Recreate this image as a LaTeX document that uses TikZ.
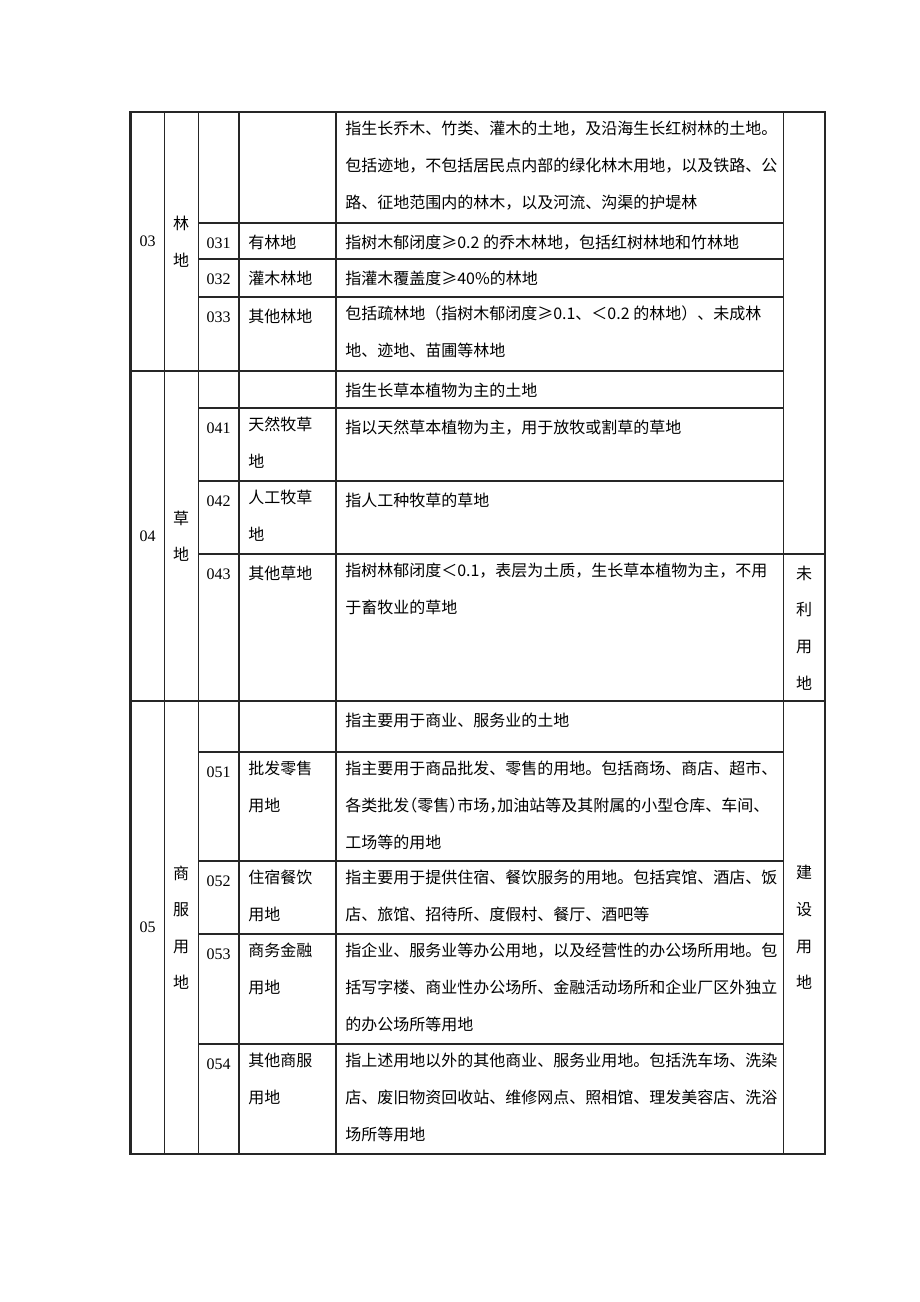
\documentclass[tikz,border=0pt]{standalone}
\usepackage{fontspec}
\setmainfont{Liberation Serif}
\newfontfamily\cjk{Noto Sans CJK SC}
\newfontfamily\cjkhalf[RawFeature=+halt]{Noto Sans CJK SC}
\newcommand{\hw}[1]{{\cjkhalf #1}}
\usepackage{tikz}

\begin{document}
\begin{tikzpicture}[x=0.75pt, y=-0.75pt, font=\fontsize{12}{14}\selectfont,
		rule/.style={line width=1pt, black!85},
		frame/.style={line width=1.75pt, black!85},
		desc/.style={anchor=north west, inner sep=0pt, align=left,
			font=\cjk\fontsize{12}{27.75}\selectfont, execute at begin node={\rule{0pt}{12pt}}},
		code/.style={anchor=base, inner sep=0pt},
		vtext/.style={inner sep=0pt, align=center, font=\cjk\fontsize{12}{27.4}\selectfont}]
		\useasboundingbox (0,0) rectangle (920,1302);
		% Draw table frame and rules
		\draw[frame] (130.5,112) rectangle (825,1154);
		\foreach \x in {164.3,198.3,239,336,783.3}
			\draw[rule] (\x,112) -- (\x,1154);
		\foreach \y in {223,259,297,408,481,752,861,934,1044}
			\draw[rule] (198.3,\y) -- (783.3,\y);
		\draw[rule] (130.5,371) -- (783.3,371);
		\draw[rule] (198.3,554) -- (825,554);
		\draw[rule] (130.5,701) -- (825,701);
		% Class codes and names
		\node[inner sep=0pt] (k03) at (147.5,241.5) {03};
		\node[inner sep=0pt] (k04) at (147.5,536) {04};
		\node[inner sep=0pt] (k05) at (147.5,927.5) {05};
		\node[vtext] (g03) at (181,241.5) {林\\地};
		\node[vtext] (g04) at (181,536) {草\\地};
		\node[vtext] (g05) at (181,927.5) {商\\服\\用\\地};
		% Sub-class codes and names
		\foreach \c/\y/\t in {031/223/有林地, 032/259/灌木林地, 033/297/其他林地,
			041/408/{天然牧草\\地}, 042/481/{人工牧草\\地}, 043/554/其他草地,
			051/752/{批发零售\\用地}, 052/861/{住宿餐饮\\用地}, 053/934/{商务金融\\用地},
			054/1044/{其他商服\\用地}} {
			\node[code] (c\c) at (218.5,\y+25) {\c};
			\node[desc] (n\c) at (248,\y+9) {\t};
		}
		% Descriptions
		\node[desc] (d03) at (345,121) {指生长乔木、竹类、灌木的土地，及沿海生长红树林的土地。\\包括迹地，不包括居民点内部的绿化林木用地，以及铁路、公\\路、征地范围内的林木，以及河流、沟渠的护堤林};
		\node[desc] (d031) at (345,232) {指树木郁闭度≥0.2 的乔木林地，包括红树林地和竹林地};
		\node[desc] (d032) at (345,268) {指灌木覆盖度≥40\%的林地};
		\node[desc] (d033) at (345,306) {包括疏林地（指树木郁闭度≥0.1、＜0.2 的林地）、未成林\\地、迹地、苗圃等林地};
		\node[desc] (d04) at (345,380) {指生长草本植物为主的土地};
		\node[desc] (d041) at (345,417) {指以天然草本植物为主，用于放牧或割草的草地};
		\node[desc] (d042) at (345,490) {指人工种牧草的草地};
		\node[desc] (d043) at (345,563) {指树林郁闭度＜0.1，表层为土质，生长草本植物为主，不用\\于畜牧业的草地};
		\node[desc] (d05) at (345,710) {指主要用于商业、服务业的土地};
		\node[desc] (d051) at (345,761) {指主要用于商品批发、零售的用地。包括商场、商店、超市、\\各类批发\hw{（}零售\hw{）}市场\hw{，}加油站等及其附属的小型仓库、车间、\\工场等的用地};
		\node[desc] (d052) at (345,870) {指主要用于提供住宿、餐饮服务的用地。包括宾馆、酒店、饭\\店、旅馆、招待所、度假村、餐厅、酒吧等};
		\node[desc] (d053) at (345,943) {指企业、服务业等办公用地，以及经营性的办公场所用地。包\\括写字楼、商业性办公场所、金融活动场所和企业厂区外独立\\的办公场所等用地};
		\node[desc] (d054) at (345,1053) {指上述用地以外的其他商业、服务业用地。包括洗车场、洗染\\店、废旧物资回收站、维修网点、照相馆、理发美容店、洗浴\\场所等用地};
		% Land-use groups
		\node[vtext] (u1) at (804,628) {未\\利\\用\\地};
		\node[vtext] (u2) at (804,927.5) {建\\设\\用\\地};
	\end{tikzpicture}
\end{document}
